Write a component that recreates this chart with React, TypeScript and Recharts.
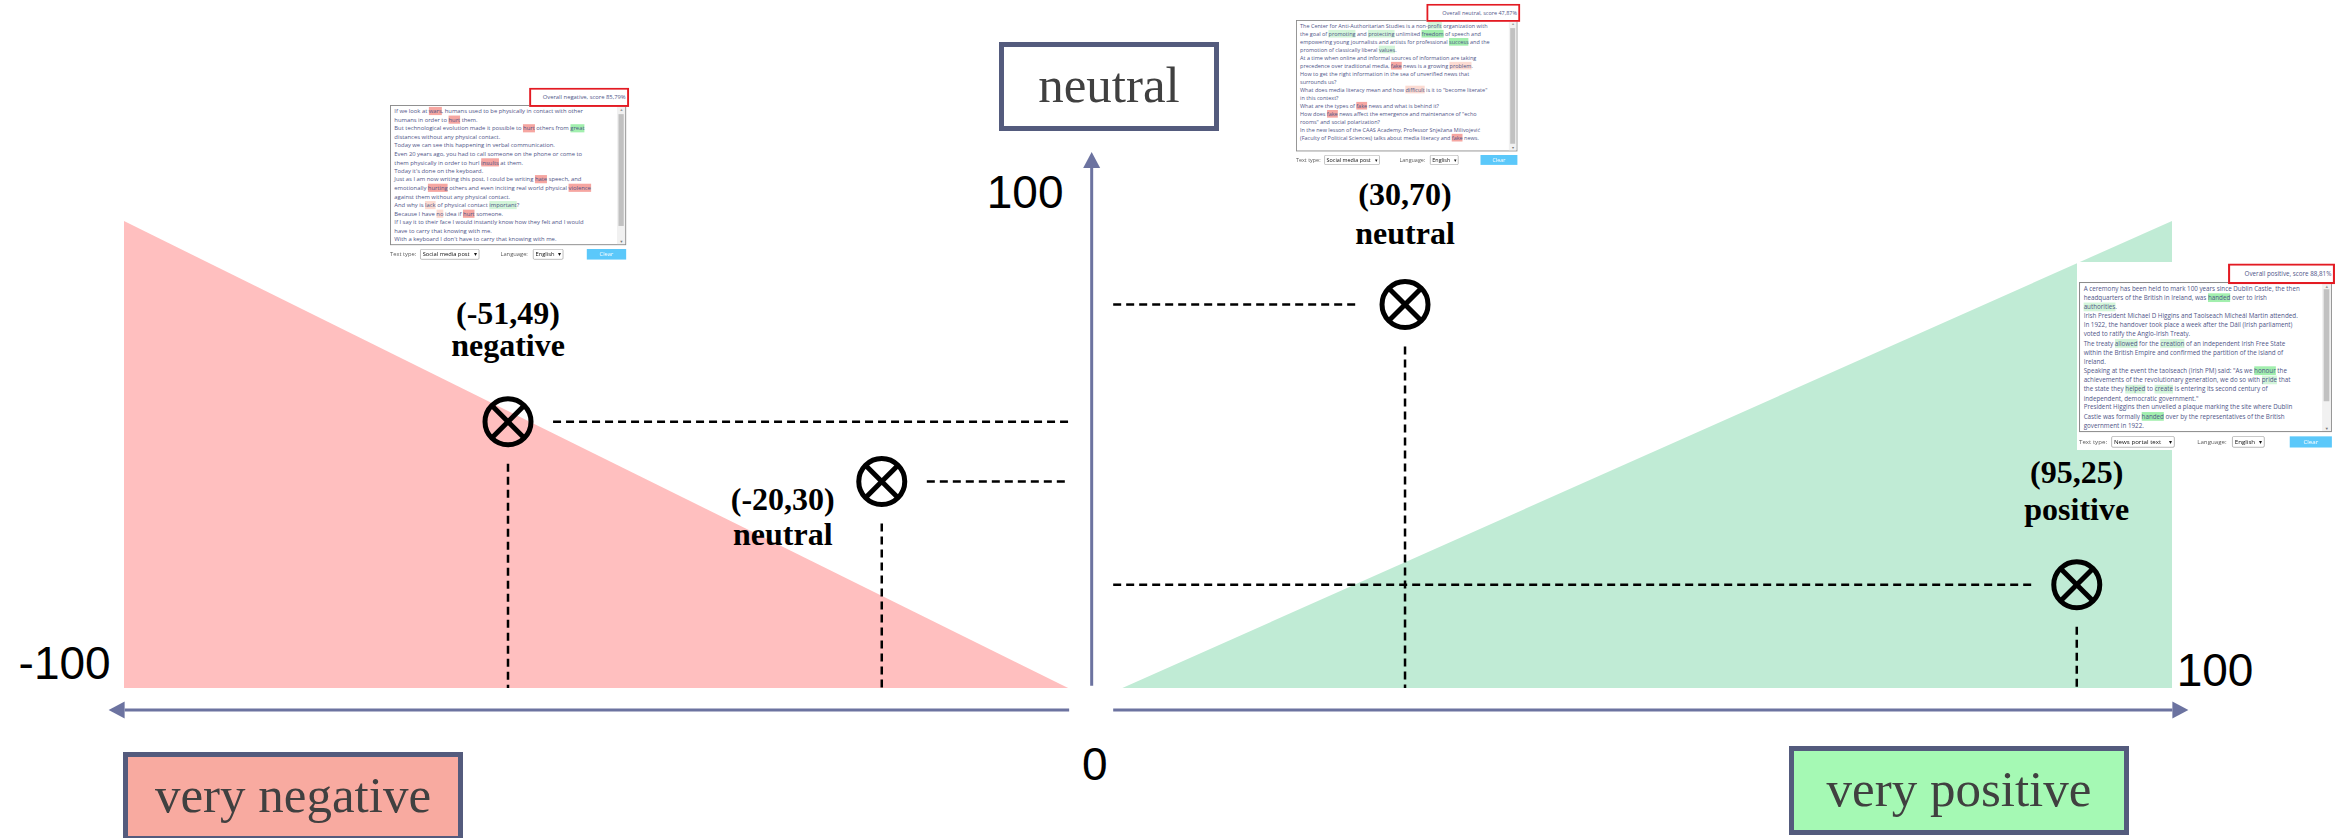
import React from "react";
import { ComposedChart, Area, Scatter, XAxis, YAxis, ReferenceLine, ReferenceDot, Label } from "recharts";

const WIDTH = 2346;
const HEIGHT = 838;

// Diagram units: x = polarity (-100..100 at the ends of the two regions), y = 0..100
const REGION_X = [-100, -7.8, -2.5, 100];
const NEGATIVE_EDGE = [100, 0, null, null];
const POSITIVE_EDGE = [null, null, 0, 100];

// Example texts placed on the diagram (position as drawn, label as printed)
const EXAMPLE_COORDS = ["(-51,49)", "(-20,30)", "(30,70)", "(95,25)"];
const EXAMPLE_CLASS = ["negative", "neutral", "neutral", "positive"];
const EXAMPLE_X = [-62.5, -26.0, 25.1, 90.7];
const EXAMPLE_Y = [57.0, 44.2, 82.1, 22.1];

// Axes as drawn
const AXIS_X = -5.5;
const AXIS_Y = -4.7;
const AXIS_LEFT_STOP = -7.7;
const AXIS_RIGHT_START = -3.4;

const AXIS_COLOR = "#6c73a0";
const BORDER_COLOR = "#545b7d";
const SERIF = "'Liberation Serif', 'Times New Roman', serif";
const SANS = "'Liberation Sans', Arial, sans-serif";
const PANEL_FONT = "'Open Sans', 'Noto Sans', sans-serif";
const PANEL_TEXT = "#4f5588";

const regionRows = REGION_X.map((x, i) => ({ x, negative: NEGATIVE_EDGE[i], positive: POSITIVE_EDGE[i] }));
const examples = EXAMPLE_X.map((x, i) => ({
  x,
  y: EXAMPLE_Y[i],
  coords: EXAMPLE_COORDS[i],
  cls: EXAMPLE_CLASS[i],
  i,
}));

// where the two-line caption sits relative to each marker
const LABEL_PLACEMENT = [
  { dx: 0, dy1: -98, dy2: -66 },
  { dx: -99, dy1: 28, dy2: 63 },
  { dx: 0, dy1: -100, dy2: -61 },
  { dx: 0, dy1: -102, dy2: -65 },
];

const GUIDE_GAP_X = 4.4;
const GUIDE_GAP_Y = 9;

// screenshot panels of the analyser
const NEGATIVE_TEXT = [
  "If we look at [r:wars], humans used to be physically in contact with other",
  "humans in order to [r:hurt] them.",
  "But technological evolution made it possible to [r:hurt] others from [g:great]",
  "distances without any physical contact.",
  "Today we can see this happening in verbal communication.",
  "Even 20 years ago, you had to call someone on the phone or come to",
  "them physically in order to hurl [r:insults] at them.",
  "Today it's done on the keyboard.",
  "Just as I am now writing this post, I could be writing [r:hate] speech, and",
  "emotionally [r:hurting] others and even inciting real world physical [r:violence]",
  "against them without any physical contact.",
  "And why is [lr:lack] of physical contact [lg:important]?",
  "Because I have [lr:no] idea if [r:hurt] someone.",
  "If I say it to their face I would instantly know how they felt and I would",
  "have to carry that knowing with me.",
  "With a keyboard I don't have to carry that knowing with me.",
];

const NEUTRAL_TEXT = [
  "The Center for Anti-Authoritarian Studies is a non-[lg:profit] organization with",
  "the goal of [lg:promoting] and [lg:protecting] unlimited [g:freedom] of speech and",
  "empowering young journalists and artists for professional [g:success] and the",
  "promotion of classically liberal [lg:values].",
  "At a time when online and informal sources of information are taking",
  "precedence over traditional media, [r:fake] news is a growing [lr:problem].",
  "How to get the right information in the sea of unverified news that",
  "surrounds us?",
  "What does media literacy mean and how [lr:difficult] is it to \"become literate\"",
  "in this context?",
  "What are the types of [r:fake] news and what is behind it?",
  "How does [r:fake] news affect the emergence and maintenance of \"echo",
  "rooms\" and social polarization?",
  "In the new lesson of the CAAS Academy, Professor Snježana Milivojević",
  "(Faculty of Political Sciences) talks about media literacy and [r:fake] news.",
];

const POSITIVE_TEXT = [
  "A ceremony has been held to mark 100 years since Dublin Castle, the then",
  "headquarters of the British in Ireland, was [g:handed] over to Irish",
  "[lg:authorities].",
  "Irish President Michael D Higgins and Taoiseach Micheál Martin attended.",
  "In 1922, the handover took place a week after the Dáil (Irish parliament)",
  "voted to ratify the Anglo-Irish Treaty.",
  "The treaty [lg:allowed] for the [lg:creation] of an independent Irish Free State",
  "within the British Empire and confirmed the partition of the island of",
  "Ireland.",
  "Speaking at the event the taoiseach (Irish PM) said: \"As we [g:honour] the",
  "achievements of the revolutionary generation, we do so with [lg:pride] that",
  "the state they [lg:helped] to [lg:create] is entering its second century of",
  "independent, democratic government.\"",
  "President Higgins then unveiled a plaque marking the site where Dublin",
  "Castle was formally [g:handed] over by the representatives of the British",
  "government in 1922.",
];

const HIGHLIGHT: Record<string, string> = {
  r: "#f6a6a1",
  lr: "#fcdbd2",
  g: "#a2efae",
  lg: "#d3f5d9",
};

function renderLine(line: string) {
  const parts = line.split(/(\[[a-z]+:[^\]]+\])/);
  return parts.map((p, i) => {
    const m = p.match(/^\[([a-z]+):(.+)\]$/);
    if (m) return <span key={i} style={{ background: HIGHLIGHT[m[1]] }}>{m[2]}</span>;
    return <span key={i}>{p}</span>;
  });
}

function ArrowLine(props: any) {
  const { x1, y1, x2, y2 } = props;
  const dx = x2 - x1;
  const dy = y2 - y1;
  const len = Math.hypot(dx, dy) || 1;
  const ux = dx / len;
  const uy = dy / len;
  const bx = x2 - ux * 16;
  const by = y2 - uy * 16;
  const px = -uy * 8.5;
  const py = ux * 8.5;
  return (
    <g>
      <line x1={x1} y1={y1} x2={bx} y2={by} stroke={AXIS_COLOR} strokeWidth={3} />
      <polygon points={`${x2},${y2} ${bx + px},${by + py} ${bx - px},${by - py}`} fill={AXIS_COLOR} />
    </g>
  );
}

function ExampleMarker(props: any) {
  const { cx, cy, payload } = props;
  const r = 23;
  const d = r * Math.SQRT1_2;
  const place = LABEL_PLACEMENT[payload.i];
  const textStyle = { fontFamily: SERIF, fontWeight: 700, fontSize: 32, fill: "#000" };
  return (
    <g>
      <circle cx={cx} cy={cy} r={r} fill="none" stroke="#000" strokeWidth={5} />
      <line x1={cx - d} y1={cy - d} x2={cx + d} y2={cy + d} stroke="#000" strokeWidth={5} />
      <line x1={cx - d} y1={cy + d} x2={cx + d} y2={cy - d} stroke="#000" strokeWidth={5} />
      <text x={cx + place.dx} y={cy + place.dy1} textAnchor="middle" {...textStyle}>
        {payload.coords}
      </text>
      <text x={cx + place.dx} y={cy + place.dy2} textAnchor="middle" {...textStyle}>
        {payload.cls}
      </text>
    </g>
  );
}

function CategoryBox({ left, top, width, fill, text }: { left: number; top: number; width: number; fill: string; text: string }) {
  return (
    <div
      style={{
        position: "absolute",
        left,
        top,
        width,
        height: 89,
        boxSizing: "border-box",
        border: `5px solid ${BORDER_COLOR}`,
        background: fill,
        fontFamily: SERIF,
        fontSize: 51,
        color: "#404040",
        textAlign: "center",
        lineHeight: "76px",
        whiteSpace: "nowrap",
      }}
    >
      {text}
    </div>
  );
}

type PanelProps = {
  left: number;
  top: number;
  scale: number;
  header: string;
  textType: string;
  lines: string[];
  thumb: [number, number];
};

function Panel({ left, top, scale, header, textType, lines, thumb }: PanelProps) {
  const select = (l: number, w: number, label: string) => (
    <div
      style={{
        position: "absolute",
        left: l,
        top: 0,
        width: w,
        height: 22,
        border: "1.5px solid #767676",
        borderRadius: 3,
        boxSizing: "border-box",
        background: "#fff",
        color: "#111",
        lineHeight: "19px",
        paddingLeft: 4,
      }}
    >
      {label}
      <span style={{ position: "absolute", right: 4, top: 0 }}>▾</span>
    </div>
  );
  return (
    <div
      style={{
        position: "absolute",
        left,
        top,
        width: 500,
        height: 330,
        transform: `scale(${scale})`,
        transformOrigin: "0 0",
        fontFamily: PANEL_FONT,
      }}
    >
      <div
        style={{
          position: "absolute",
          left: 0,
          top: 0,
          width: 492,
          height: 292,
          border: "2px solid #8c8c8c",
          boxSizing: "border-box",
          background: "#fff",
          overflow: "hidden",
        }}
      >
        <div
          style={{
            position: "absolute",
            left: 7,
            top: 2,
            fontSize: 12.2,
            lineHeight: "17.8px",
            color: PANEL_TEXT,
            whiteSpace: "nowrap",
          }}
        >
          {lines.map((ln, i) => (
            <div key={i}>{renderLine(ln)}</div>
          ))}
        </div>
        <div style={{ position: "absolute", right: 0, top: 0, width: 17, height: "100%", background: "#f1f1f1" }} />
        <div
          style={{
            position: "absolute",
            right: 3,
            top: thumb[0],
            width: 11,
            height: thumb[1] - thumb[0],
            background: "#c1c1c1",
          }}
        />
        <div style={{ position: "absolute", right: 4, bottom: 1, fontSize: 8, color: "#777" }}>▼</div>
        <div style={{ position: "absolute", right: 4, top: 1, fontSize: 8, color: "#999" }}>▲</div>
      </div>
      <div
        style={{
          position: "absolute",
          left: 290,
          top: -36,
          width: 208,
          height: 40,
          border: "4px solid #e31b23",
          boxSizing: "border-box",
          background: "#fff",
          fontSize: 12.2,
          color: PANEL_TEXT,
          textAlign: "right",
          paddingRight: 3,
          lineHeight: "32px",
          whiteSpace: "nowrap",
        }}
      >
        {header}
      </div>
      <div style={{ position: "absolute", left: 0, top: 300, width: 492, height: 22, fontSize: 12, color: "#5a5a5a" }}>
        <span style={{ position: "absolute", left: 0, top: 2 }}>Text type:</span>
        {select(63, 123, textType)}
        <span style={{ position: "absolute", left: 230, top: 2 }}>Language:</span>
        {select(298, 63, "English")}
        <div
          style={{
            position: "absolute",
            left: 410,
            top: 0,
            width: 82,
            height: 22,
            background: "#5bc8fa",
            color: "#fff",
            textAlign: "center",
            lineHeight: "22px",
          }}
        >
          Clear
        </div>
      </div>
    </div>
  );
}

export default function App() {
  const tickStyle = { fontFamily: SANS, fontSize: 46, fill: "#000" };
  return (
    <div style={{ position: "relative", width: WIDTH, height: HEIGHT, overflow: "hidden", background: "#fff" }}>
      <style>{"body{margin:0}"}</style>
      <ComposedChart
        width={WIDTH}
        height={HEIGHT}
        data={regionRows}
        margin={{ top: 221, right: 174, bottom: 150, left: 124 }}
      >
        <XAxis type="number" dataKey="x" domain={[-100, 100]} hide />
        <YAxis type="number" domain={[0, 100]} hide />
        <Area
          type="linear"
          dataKey="negative"
          baseValue={0}
          fill="#ffbfbf"
          fillOpacity={1}
          stroke="none"
          connectNulls={false}
          isAnimationActive={false}
        />
        <Area
          type="linear"
          dataKey="positive"
          baseValue={0}
          fill="#c0ebd5"
          fillOpacity={1}
          stroke="none"
          connectNulls={false}
          isAnimationActive={false}
        />

        {examples.map((p) => {
          const left = p.x < AXIS_X;
          const h = left
            ? [{ x: p.x + GUIDE_GAP_X, y: p.y }, { x: AXIS_LEFT_STOP, y: p.y }]
            : [{ x: AXIS_RIGHT_START, y: p.y }, { x: p.x - GUIDE_GAP_X, y: p.y }];
          return (
            <ReferenceLine
              key={`h${p.i}`}
              segment={h}
              stroke="#000"
              strokeWidth={2.5}
              strokeDasharray="8 5"
              ifOverflow="visible"
            />
          );
        })}
        {examples.map((p) => (
          <ReferenceLine
            key={`v${p.i}`}
            segment={[
              { x: p.x, y: p.y - GUIDE_GAP_Y },
              { x: p.x, y: 0 },
            ]}
            stroke="#000"
            strokeWidth={2.5}
            strokeDasharray="8 5"
            ifOverflow="visible"
          />
        ))}

        <ReferenceLine
          segment={[
            { x: AXIS_X, y: 0.5 },
            { x: AXIS_X, y: 114.8 },
          ]}
          shape={ArrowLine}
          ifOverflow="visible"
        />
        <ReferenceLine
          segment={[
            { x: AXIS_LEFT_STOP, y: AXIS_Y },
            { x: -101.5, y: AXIS_Y },
          ]}
          shape={ArrowLine}
          ifOverflow="visible"
        />
        <ReferenceLine
          segment={[
            { x: AXIS_RIGHT_START, y: AXIS_Y },
            { x: 101.6, y: AXIS_Y },
          ]}
          shape={ArrowLine}
          ifOverflow="visible"
        />

        <ReferenceDot x={-105.8} y={5.5} r={0} fill="none" stroke="none" ifOverflow="visible">
          <Label value="-100" position="center" {...tickStyle} />
        </ReferenceDot>
        <ReferenceDot x={104.2} y={3.9} r={0} fill="none" stroke="none" ifOverflow="visible">
          <Label value="100" position="center" {...tickStyle} />
        </ReferenceDot>
        <ReferenceDot x={-5.2} y={-16.2} r={0} fill="none" stroke="none" ifOverflow="visible">
          <Label value="0" position="center" {...tickStyle} />
        </ReferenceDot>
        <ReferenceDot x={-12.0} y={106.3} r={0} fill="none" stroke="none" ifOverflow="visible">
          <Label value="100" position="center" {...tickStyle} />
        </ReferenceDot>

        <Scatter data={examples} dataKey="y" shape={(props: any) => <ExampleMarker {...props} />} isAnimationActive={false} />
      </ComposedChart>

      <CategoryBox left={999} top={42} width={220} fill="#ffffff" text="neutral" />
      <CategoryBox left={123} top={752} width={340} fill="#f8aaa0" text="very negative" />
      <CategoryBox left={1789} top={746} width={340} fill="#a5f9b4" text="very positive" />

      <Panel
        left={390}
        top={105}
        scale={0.48}
        header="Overall negative, score 85,79%"
        textType="Social media post"
        lines={NEGATIVE_TEXT}
        thumb={[17, 250]}
      />
      <Panel
        left={1296}
        top={20}
        scale={0.45}
        header="Overall neutral, score 47,87%"
        textType="Social media post"
        lines={NEUTRAL_TEXT}
        thumb={[16, 273]}
      />
      <div style={{ position: "absolute", left: 2077, top: 262, width: 269, height: 188, background: "#fff" }} />
      <Panel
        left={2079}
        top={282}
        scale={0.514}
        header="Overall positive, score 88,81%"
        textType="News portal text"
        lines={POSITIVE_TEXT}
        thumb={[12, 230]}
      />
    </div>
  );
}
